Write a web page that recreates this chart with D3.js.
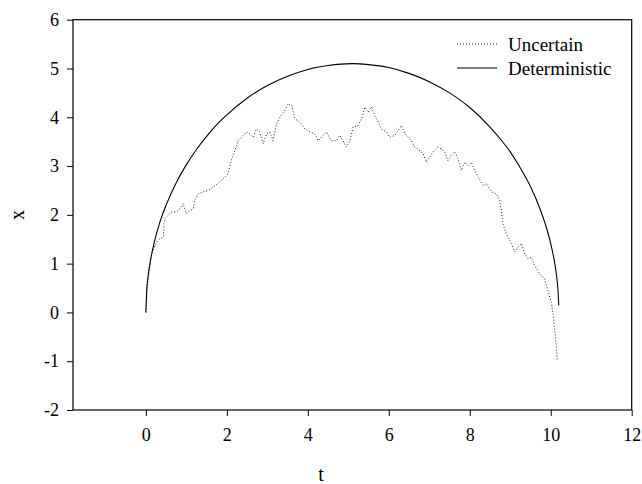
<!DOCTYPE html>
<html>
<head>
<meta charset="utf-8">
<script src="https://cdn.jsdelivr.net/npm/d3@7"></script>
<style>
  body { margin: 0; background: #fff; }
  text { font-family: "Liberation Serif", "Times New Roman", serif; fill: #000; }
</style>
</head>
<body>
<div id="chart"></div>
<script>
// deterministic path
var detT = [0, 0.02, 0.05, 0.1, 0.2, 0.35, 0.5, 0.75, 1, 1.25, 1.5, 1.75, 2, 2.5, 3, 3.5, 4, 4.5, 5.1,
  5.5, 6, 6.5, 7, 7.5, 8, 8.5, 8.75, 9, 9.25, 9.5, 9.75, 9.9, 10, 10.1, 10.15, 10.18, 10.198];
var detX = [0, 0.45, 0.71, 1.0, 1.41, 1.86, 2.2, 2.66, 3.03, 3.34, 3.61, 3.85, 4.05, 4.39, 4.65, 4.84, 4.98, 5.06, 5.1,
  5.08, 5.02, 4.9, 4.73, 4.5, 4.2, 3.8, 3.56, 3.29, 2.96, 2.58, 2.09, 1.72, 1.41, 1.0, 0.71, 0.45, 0.14];

// uncertain (noisy) path
var uncT = [0, 0.03, 0.08, 0.14, 0.22, 0.3, 0.35, 0.43, 0.45, 0.47, 0.55, 0.63, 0.76, 0.84, 0.92, 1.0, 1.09, 1.17,
  1.21, 1.29, 1.41, 1.54, 1.66, 1.78, 1.91, 2.03, 2.07, 2.12, 2.2, 2.28, 2.36, 2.49, 2.57, 2.65, 2.73, 2.81,
  2.9, 2.98, 3.06, 3.14, 3.23, 3.31, 3.43, 3.51, 3.6, 3.68, 3.8, 3.93, 4.05, 4.17, 4.26, 4.38, 4.46, 4.58,
  4.71, 4.79, 4.87, 4.95, 5.04, 5.12, 5.24, 5.33, 5.41, 5.49, 5.57, 5.65, 5.74, 5.82, 5.94, 6.02, 6.15,
  6.23, 6.31, 6.4, 6.48, 6.56, 6.64, 6.72, 6.85, 6.93, 7.01, 7.09, 7.21, 7.3, 7.38, 7.46, 7.54, 7.63,
  7.71, 7.79, 7.88, 7.96, 8.04, 8.12, 8.21, 8.33, 8.41, 8.54, 8.66, 8.74, 8.78, 8.82, 8.9, 8.99, 9.11,
  9.19, 9.28, 9.36, 9.44, 9.52, 9.6, 9.73, 9.85, 9.93, 10.02, 10.06, 10.1, 10.14, 10.16];
var uncX = [0, 0.5, 0.85, 1.2, 1.37, 1.48, 1.51, 1.54, 1.82, 1.92, 1.99, 2.06, 2.06, 2.12, 2.23, 2.02, 2.09, 2.12,
  2.3, 2.43, 2.47, 2.5, 2.57, 2.64, 2.74, 2.84, 2.98, 3.15, 3.32, 3.52, 3.59, 3.7, 3.66, 3.59, 3.76, 3.7,
  3.46, 3.66, 3.7, 3.52, 3.87, 4.0, 4.14, 4.28, 4.24, 3.97, 3.9, 3.76, 3.7, 3.66, 3.52, 3.63, 3.7, 3.52,
  3.52, 3.63, 3.52, 3.39, 3.52, 3.8, 3.83, 3.97, 4.21, 4.1, 4.21, 4.04, 3.9, 3.76, 3.7, 3.59, 3.63,
  3.73, 3.83, 3.66, 3.59, 3.52, 3.39, 3.35, 3.25, 3.08, 3.18, 3.29, 3.39, 3.35, 3.29, 3.11, 3.22, 3.29,
  3.15, 2.91, 3.08, 3.01, 3.08, 2.91, 2.77, 2.6, 2.64, 2.47, 2.43, 2.3, 2.09, 1.82, 1.61, 1.48, 1.24,
  1.34, 1.41, 1.2, 1.1, 1.13, 0.96, 0.79, 0.69, 0.45, 0.18, -0.06, -0.37, -0.71, -0.98];

var xTicks = [0, 2, 4, 6, 8, 10, 12];
var yTicks = [-2, -1, 0, 1, 2, 3, 4, 5, 6];
var legendNames = ['Uncertain', 'Deterministic'];

var W = 642, H = 484;
var plotLeft = 73, plotRight = 631.7, plotTop = 19.7, plotBottom = 410;

var svg = d3.select('#chart').append('svg')
  .attr('width', W)
  .attr('height', H);

var x = d3.scaleLinear().domain([-1.8, 12]).range([plotLeft, plotRight]);
var y = d3.scaleLinear().domain([-2, 6]).range([plotBottom, plotTop]);

// plain hyphen for negatives, like the original
var fmt = function(d) { return String(d); };

// axes
var gx = svg.append('g')
  .attr('transform', 'translate(0,' + plotBottom + ')')
  .call(d3.axisBottom(x).tickValues(xTicks).tickFormat(fmt).tickSize(6).tickSizeOuter(0).tickPadding(12));
var gy = svg.append('g')
  .attr('transform', 'translate(' + plotLeft + ',0)')
  .call(d3.axisLeft(y).tickValues(yTicks).tickFormat(fmt).tickSize(6).tickSizeOuter(0).tickPadding(8));

[gx, gy].forEach(function(g) {
  g.select('.domain').remove();
  g.selectAll('line').attr('stroke', '#000');
  g.selectAll('text')
    .style('font-family', '"Liberation Serif", "Times New Roman", serif')
    .style('font-size', '18px');
});

// frame
svg.append('rect')
  .attr('x', plotLeft)
  .attr('y', plotTop)
  .attr('width', plotRight - plotLeft)
  .attr('height', plotBottom - plotTop)
  .attr('fill', 'none')
  .attr('stroke', '#000')
  .attr('stroke-width', 1.2);

// lines
var line = d3.line()
  .x(function(d) { return x(d[0]); })
  .y(function(d) { return y(d[1]); });

svg.append('path')
  .datum(d3.zip(uncT, uncX))
  .attr('d', line.curve(d3.curveLinear))
  .attr('fill', 'none')
  .attr('stroke', '#222')
  .attr('stroke-width', 1)
  .attr('stroke-dasharray', '1,2');

svg.append('path')
  .datum(d3.zip(detT, detX))
  .attr('d', line.curve(d3.curveMonotoneX))
  .attr('fill', 'none')
  .attr('stroke', '#000')
  .attr('stroke-width', 1.1);

// axis titles
svg.append('text')
  .attr('x', 321)
  .attr('y', 481)
  .attr('text-anchor', 'middle')
  .style('font-size', '20px')
  .text('t');

svg.append('text')
  .attr('transform', 'translate(24,215) rotate(-90)')
  .attr('text-anchor', 'middle')
  .style('font-size', '20px')
  .text('x');

// legend
var legend = svg.append('g');
legendNames.forEach(function(name, i) {
  var ly = 44 + i * 24;
  legend.append('line')
    .attr('x1', 457)
    .attr('x2', 497)
    .attr('y1', ly)
    .attr('y2', ly)
    .attr('stroke', i === 0 ? '#222' : '#000')
    .attr('stroke-width', 1)
    .attr('stroke-dasharray', i === 0 ? '1,2' : null);
  legend.append('text')
    .attr('x', 508)
    .attr('y', ly)
    .attr('dy', '0.35em')
    .style('font-size', '19px')
    .text(name);
});
</script>
</body>
</html>
